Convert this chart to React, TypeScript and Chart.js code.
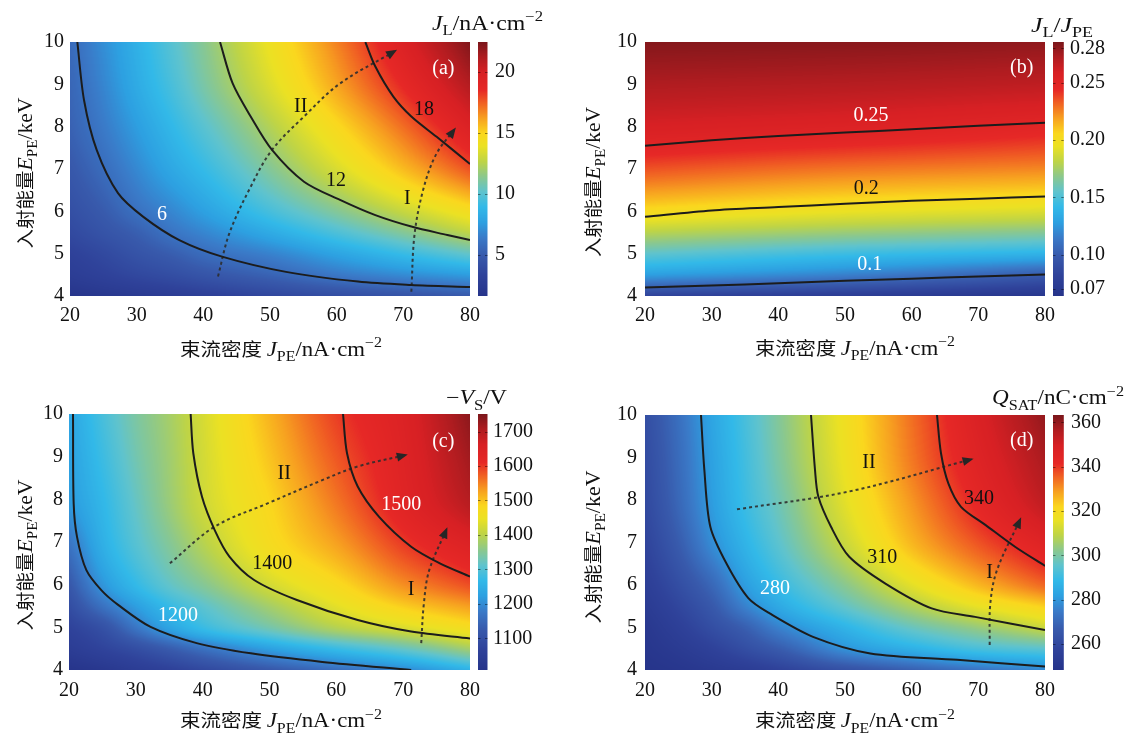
import React, { useEffect, useRef } from "react";
import { Chart, registerables } from "chart.js";

Chart.register(...registerables);

const SERIF = '"Liberation Serif", "DejaVu Serif", "Times New Roman", serif';
const CJK = '"Noto Sans CJK SC", "Noto Sans CJK JP", sans-serif';

/* ---------------- shared axis ticks ---------------- */
const xTickValues = [20, 30, 40, 50, 60, 70, 80];
const yTickValues = [4, 5, 6, 7, 8, 9, 10];

/* ---------------- (a) J_L ---------------- */
const aGridX = [20, 25, 30, 35, 40, 50, 60, 70, 80];
const aGridY = [4, 4.5, 5, 5.5, 6, 7, 8, 9, 10];
const aValues = [
  [1.8, 2.1, 2.4, 2.7, 3.0, 3.6, 4.1, 4.5, 4.9],
  [2.7, 3.2, 3.7, 4.1, 4.6, 5.4, 6.3, 7.0, 7.6],
  [3.2, 3.8, 4.5, 5.1, 5.8, 6.7, 7.9, 9.1, 10.3],
  [3.8, 4.5, 5.2, 6.1, 6.8, 8.2, 9.7, 11.2, 12.7],
  [4.2, 5.0, 6.0, 6.8, 7.7, 9.5, 11.2, 12.9, 14.5],
  [4.8, 5.8, 6.9, 8.0, 9.0, 11.2, 13.4, 15.6, 17.7],
  [5.3, 6.4, 7.6, 8.8, 10.0, 12.4, 14.8, 17.2, 19.6],
  [5.5, 6.8, 8.2, 9.5, 10.9, 13.5, 16.1, 18.6, 21.1],
  [5.7, 7.1, 8.5, 9.9, 11.3, 14.1, 16.8, 19.6, 22.3],
];
const aRange = [1.64, 22.46];
const aBarTicks = [5, 10, 15, 20];
const aContour6 = [[21.1, 10], [22.1, 8.63], [24.0, 7.45], [27.2, 6.43], [31.0, 5.87], [36.4, 5.32], [42.8, 4.93], [52.4, 4.57], [63.2, 4.34], [71.2, 4.26], [80, 4.21]];
const aContour12 = [[42.5, 10], [44.4, 9.02], [47.1, 8.24], [50.3, 7.45], [55.1, 6.7], [60.5, 6.27], [65.8, 5.91], [71.2, 5.64], [76.6, 5.44], [80, 5.32]];
const aContour18 = [[64.3, 10], [65.8, 9.42], [68.5, 8.71], [71.2, 8.24], [75, 7.76], [80, 7.12]];
const aArrowII = [[42.2, 4.46], [43.9, 5.48], [47.1, 6.58], [50.3, 7.45], [55.1, 8.24], [60.5, 9.02], [68.8, 9.79]];
const aArrowI = [[71.2, 4.1], [71.7, 5.48], [73.1, 6.58], [75, 7.37], [77.7, 7.94]];
const aLabelText = ["6", "12", "18", "II", "I", "(a)"];
const aLabelX = [33.8, 59.9, 73.1, 54.6, 70.6, 76.0];
const aLabelY = [5.93, 6.72, 8.39, 8.47, 6.29, 9.36];

/* ---------------- (b) J_L / J_PE ---------------- */
const bGridX = [20, 50, 80];
const bGridY = [4, 4.5, 5, 5.5, 6, 7, 8, 9, 10];
const bValues = [
  [0.082, 0.075, 0.068],
  [0.128, 0.117, 0.1],
  [0.155, 0.145, 0.138],
  [0.18, 0.172, 0.166],
  [0.203, 0.195, 0.19],
  [0.235, 0.228, 0.224],
  [0.258, 0.254, 0.248],
  [0.272, 0.27, 0.267],
  [0.283, 0.282, 0.28],
];
const bRange = [0.064, 0.2855];
const bBarTicks = [0.07, 0.1, 0.15, 0.2, 0.25, 0.28];
const bContour01 = [[20, 4.2], [30, 4.25], [40, 4.3], [50, 4.36], [60, 4.41], [70, 4.46], [80, 4.51]];
const bContour02 = [[20, 5.87], [30, 6.02], [40, 6.1], [50, 6.18], [60, 6.25], [70, 6.3], [80, 6.35]];
const bContour025 = [[20, 7.55], [30, 7.68], [40, 7.78], [50, 7.86], [60, 7.94], [70, 8.02], [80, 8.09]];
const bLabelText = ["0.25", "0.2", "0.1", "(b)"];
const bLabelX = [53.9, 53.2, 53.7, 76.5];
const bLabelY = [8.25, 6.54, 4.75, 9.38];

/* ---------------- (c) -V_S ---------------- */
const cGridX = [20, 25, 30, 35, 40, 50, 60, 70, 80];
const cGridY = [4, 4.5, 5, 5.5, 6, 7, 8, 9, 10];
const cValues = [
  [1010, 1025, 1045, 1062, 1082, 1120, 1157, 1194, 1253],
  [1045, 1070, 1097, 1130, 1165, 1225, 1275, 1320, 1380],
  [1068, 1105, 1172, 1231, 1275, 1335, 1394, 1430, 1469],
  [1095, 1165, 1222, 1272, 1310, 1380, 1440, 1492, 1530],
  [1120, 1210, 1268, 1315, 1350, 1422, 1476, 1540, 1585],
  [1170, 1250, 1305, 1350, 1395, 1470, 1528, 1598, 1648],
  [1216, 1265, 1320, 1370, 1417, 1484, 1558, 1632, 1700],
  [1225, 1278, 1332, 1375, 1421, 1500, 1578, 1640, 1718],
  [1231, 1290, 1342, 1380, 1425, 1513, 1595, 1647, 1736],
];
const cRange = [1008, 1751];
const cBarTicks = [1100, 1200, 1300, 1400, 1500, 1600, 1700];
const cContour1200 = [[20.6, 10], [20.7, 7.9], [21.2, 7.12], [22.6, 6.34], [24.9, 5.86], [27.4, 5.52], [32.2, 5.01], [39.1, 4.63], [47.2, 4.39], [57.9, 4.19], [71.2, 4.0]];
const cContour1400 = [[38.2, 10], [38.6, 9.08], [39.9, 8.06], [41.8, 7.28], [44.0, 6.66], [47.7, 6.11], [54.1, 5.64], [63.2, 5.17], [71.2, 4.9], [80, 4.74]];
const cContour1500 = [[61.0, 10], [61.6, 9.08], [63.2, 8.3], [66.4, 7.59], [71.2, 6.89], [75.5, 6.5], [80, 6.19]];
const cArrowII = [[35.1, 6.5], [41.8, 7.36], [49.8, 7.91], [57.9, 8.45], [63.2, 8.77], [70.4, 9.04]];
const cArrowI = [[72.7, 4.63], [73.1, 5.56], [73.9, 6.34], [76.5, 7.3]];
const cLabelText = ["1200", "1400", "1500", "II", "I", "(c)"];
const cLabelX = [36.3, 50.4, 69.7, 52.2, 71.2, 76.0];
const cLabelY = [5.27, 6.5, 7.87, 8.59, 5.89, 9.34];

/* ---------------- (d) Q_SAT ---------------- */
const dGridX = [20, 25, 30, 35, 40, 50, 60, 70, 80];
const dGridY = [4, 4.5, 5, 5.5, 6, 7, 8, 9, 10];
const dValues = [
  [248.5, 250, 252, 254, 257, 263, 268, 273, 277],
  [250, 253, 257, 262, 267, 279, 286, 292, 295],
  [251, 256, 262, 268, 276, 287, 297, 304, 311],
  [253, 259, 266, 276, 284, 296, 307, 316, 323],
  [255, 262, 270, 281, 289, 302, 315, 326, 335],
  [258, 267, 278, 287, 295, 311, 326, 337, 346],
  [260, 270, 281, 290, 298, 315, 330, 343, 354],
  [261, 271, 282, 291, 300, 317, 333, 346, 357],
  [262, 272, 283, 292, 301, 318, 334, 348, 360],
];
const dRange = [248.3, 363.3];
const dBarTicks = [260, 280, 300, 320, 340, 360];
const dContour280 = [[28.4, 10], [28.9, 8.71], [29.8, 7.37], [32.2, 6.51], [35.5, 5.69], [38.7, 5.33], [45.2, 4.78], [53.8, 4.39], [66.8, 4.24], [80, 4.08]];
const dContour310 = [[44.9, 10], [45.5, 8.71], [46.0, 8.08], [47.9, 7.37], [50.6, 6.67], [56.0, 6.04], [63.0, 5.45], [69.5, 5.25], [80, 4.94]];
const dContour340 = [[63.8, 10], [64.4, 9.1], [65.5, 8.39], [67.4, 7.84], [71.1, 7.41], [75.5, 6.9], [80, 6.45]];
const dArrowII = [[33.8, 7.78], [50.6, 8.2], [69.0, 8.96]];
const dArrowI = [[71.7, 4.59], [71.8, 5.57], [72.8, 6.35], [76.3, 7.55]];
const dLabelText = ["280", "310", "340", "II", "I", "(d)"];
const dLabelX = [39.5, 55.6, 70.1, 53.6, 71.7, 76.5];
const dLabelY = [5.91, 6.65, 8.02, 8.88, 6.28, 9.39];

/* ---------------- titles (rich text segments) ---------------- */
const yTitleSegs = [["入射能量", "cjk"], ["E", "i"], ["PE", "sub"], ["/keV", "n"]];
const xTitleSegs = [["束流密度 ", "cjk"], ["J", "i"], ["PE", "sub"], ["/nA·cm", "n"], ["−2", "sup"]];
const aBarTitle = [["J", "i"], ["L", "sub"], ["/nA·cm", "n"], ["−2", "sup"]];
const bBarTitle = [["J", "i"], ["L", "sub"], ["/", "n"], ["J", "i"], ["PE", "sub"]];
const cBarTitle = [["−", "n"], ["V", "i"], ["S", "sub"], ["/V", "n"]];
const dBarTitle = [["Q", "i"], ["SAT", "sub"], ["/nC·cm", "n"], ["−2", "sup"]];

/* ---------------- colormap (style) ---------------- */
const cmapStops: [number, number[]][] = [
  [0.0, [38, 52, 138]],
  [0.08, [47, 66, 154]],
  [0.16, [56, 90, 172]],
  [0.23, [58, 122, 200]],
  [0.29, [45, 160, 225]],
  [0.35, [50, 185, 232]],
  [0.41, [95, 195, 205]],
  [0.47, [140, 200, 140]],
  [0.53, [190, 212, 70]],
  [0.59, [235, 225, 35]],
  [0.64, [250, 215, 30]],
  [0.7, [247, 160, 32]],
  [0.76, [240, 95, 35]],
  [0.81, [230, 40, 38]],
  [0.88, [215, 32, 36]],
  [0.94, [175, 28, 32]],
  [1.0, [122, 22, 26]],
];
const LUTN = 512;
const LUT = (() => {
  const arr = new Uint8ClampedArray(LUTN * 3);
  for (let i = 0; i < LUTN; i++) {
    const p = i / (LUTN - 1);
    let k = 0;
    while (k < cmapStops.length - 2 && p > cmapStops[k + 1][0]) k++;
    const [p0, c0] = cmapStops[k];
    const [p1, c1] = cmapStops[k + 1];
    const t = Math.max(0, Math.min(1, (p - p0) / (p1 - p0)));
    for (let c = 0; c < 3; c++) arr[i * 3 + c] = c0[c] + (c1[c] - c0[c]) * t;
  }
  return arr;
})();
function lutIdx(v: number, lo: number, hi: number) {
  const p = Math.max(0, Math.min(1, (v - lo) / (hi - lo)));
  return Math.round(p * (LUTN - 1));
}
function lutColor(v: number, lo: number, hi: number) {
  const i = lutIdx(v, lo, hi);
  return `rgb(${LUT[i * 3]},${LUT[i * 3 + 1]},${LUT[i * 3 + 2]})`;
}

/* monotone cubic (PCHIP) interpolant, used for shading between read grid values */
function pchip(xs: number[], ys: number[]) {
  const n = xs.length;
  const h: number[] = [];
  const d: number[] = [];
  for (let i = 0; i < n - 1; i++) {
    h.push(xs[i + 1] - xs[i]);
    d.push((ys[i + 1] - ys[i]) / h[i]);
  }
  const m = new Array(n).fill(0);
  m[0] = d[0];
  m[n - 1] = d[n - 2];
  for (let i = 1; i < n - 1; i++) {
    if (d[i - 1] * d[i] <= 0) m[i] = 0;
    else {
      const w1 = 2 * h[i] + h[i - 1];
      const w2 = h[i] + 2 * h[i - 1];
      m[i] = (w1 + w2) / (w1 / d[i - 1] + w2 / d[i]);
    }
  }
  return (x: number) => {
    let i = 0;
    if (x >= xs[n - 1]) i = n - 2;
    else while (i < n - 2 && x > xs[i + 1]) i++;
    const t = Math.max(0, Math.min(1, (x - xs[i]) / h[i]));
    const t2 = t * t;
    const t3 = t2 * t;
    return (2 * t3 - 3 * t2 + 1) * ys[i] + (t3 - 2 * t2 + t) * h[i] * m[i] + (-2 * t3 + 3 * t2) * ys[i + 1] + (t3 - t2) * h[i] * m[i + 1];
  };
}

/* ---------------- rich text ---------------- */
function segFont(kind: string, F: number) {
  if (kind === "i") return `italic ${F}px ${SERIF}`;
  if (kind === "sub" || kind === "sup") return `${Math.round(F * 0.7)}px ${SERIF}`;
  if (kind === "cjk") return `${Math.round(F * 0.92)}px ${CJK}`;
  return `${F}px ${SERIF}`;
}
function drawRich(ctx: any, segs: any[], F: number, x: number, y: number, width: number, align: string, rotate: boolean) {
  ctx.save();
  const ws = segs.map(([t, k]: any) => {
    ctx.font = segFont(k, F);
    return ctx.measureText(t).width;
  });
  const total = ws.reduce((a: number, b: number) => a + b, 0);
  const s = width ? width / total : 1;
  ctx.translate(x, y);
  if (rotate) ctx.rotate(-Math.PI / 2);
  ctx.scale(s, 1);
  let cx = align === "center" ? -total / 2 : 0;
  ctx.textBaseline = "alphabetic";
  ctx.textAlign = "left";
  ctx.fillStyle = "#111";
  const base = F * 0.34;
  segs.forEach(([t, k]: any, i: number) => {
    ctx.font = segFont(k, F);
    const dy = k === "sub" ? F * 0.27 : k === "sup" ? -F * 0.42 : 0;
    ctx.fillText(t, cx, base + dy);
    cx += ws[i];
  });
  ctx.restore();
}

/* ---------------- panels (layout + style) ---------------- */
const panels: any[] = [
  {
    key: "a", canvas: { left: 0, top: 0, w: 563, h: 366 }, area: { l: 70, r: 470, t: 42, b: 296 },
    gridX: aGridX, gridY: aGridY, values: aValues, range: aRange, barTicks: aBarTicks, fmt: (v: number) => String(v),
    contours: [aContour6, aContour12, aContour18], arrows: [aArrowII, aArrowI],
    labelText: aLabelText, labelX: aLabelX, labelY: aLabelY, labelColors: ["#fff", "#111", "#111", "#111", "#111", "#fff"],
    cb: { off: 8, w: 9.5, pad: 25 }, yPad: 6, xPad: 8,
    barTitle: aBarTitle, barTitlePos: { x: 432, y: 23, w: 111 },
    yTitlePos: { x: 25, y: 173, w: 151 }, xTitlePos: { x: 281, y: 349, w: 202 },
  },
  {
    key: "b", canvas: { left: 563, top: 0, w: 563, h: 366 }, area: { l: 82, r: 482, t: 42, b: 296 },
    gridX: bGridX, gridY: bGridY, values: bValues, range: bRange, barTicks: bBarTicks, fmt: (v: number) => v.toFixed(2),
    contours: [bContour01, bContour02, bContour025], arrows: [],
    labelText: bLabelText, labelX: bLabelX, labelY: bLabelY, labelColors: ["#fff", "#111", "#fff", "#fff"],
    cb: { off: 8, w: 10.8, pad: 25 }, yPad: 8, xPad: 8,
    barTitle: bBarTitle, barTitlePos: { x: 468, y: 25, w: 62 },
    yTitlePos: { x: 30, y: 182, w: 150 }, xTitlePos: { x: 292, y: 348, w: 200 },
  },
  {
    key: "c", canvas: { left: 0, top: 366, w: 563, h: 367 }, area: { l: 69, r: 470, t: 48, b: 304 },
    gridX: cGridX, gridY: cGridY, values: cValues, range: cRange, barTicks: cBarTicks, fmt: (v: number) => String(v),
    contours: [cContour1200, cContour1400, cContour1500], arrows: [cArrowII, cArrowI],
    labelText: cLabelText, labelX: cLabelX, labelY: cLabelY, labelColors: ["#fff", "#111", "#fff", "#111", "#111", "#fff"],
    cb: { off: 8, w: 9.5, pad: 23 }, yPad: 6, xPad: 9,
    barTitle: cBarTitle, barTitlePos: { x: 446, y: 31.5, w: 61 },
    yTitlePos: { x: 25, y: 189, w: 151 }, xTitlePos: { x: 281, y: 354.5, w: 202 },
  },
  {
    key: "d", canvas: { left: 563, top: 366, w: 563, h: 367 }, area: { l: 82, r: 482, t: 49, b: 304 },
    gridX: dGridX, gridY: dGridY, values: dValues, range: dRange, barTicks: dBarTicks, fmt: (v: number) => String(v),
    contours: [dContour280, dContour310, dContour340], arrows: [dArrowII, dArrowI],
    labelText: dLabelText, labelX: dLabelX, labelY: dLabelY, labelColors: ["#fff", "#111", "#111", "#111", "#111", "#fff"],
    cb: { off: 8, w: 10.8, pad: 26 }, yPad: 8, xPad: 9,
    barTitle: dBarTitle, barTitlePos: { x: 429, y: 31.5, w: 132 },
    yTitlePos: { x: 30, y: 181, w: 153 }, xTitlePos: { x: 292, y: 354.5, w: 200 },
  },
];

function drawHeatmap(chart: any, p: any) {
  const { ctx, chartArea: a } = chart;
  const xs = chart.scales.x;
  const ys = chart.scales.y;
  const L = Math.round(a.left);
  const T = Math.round(a.top);
  const W = Math.round(a.right) - L;
  const H = Math.round(a.bottom) - T;
  const rowFns = p.values.map((row: number[]) => pchip(p.gridX, row));
  const rowY = new Float64Array(H);
  for (let j = 0; j < H; j++) rowY[j] = ys.getValueForPixel(T + j + 0.5);
  const img = ctx.createImageData(W, H);
  const [lo, hi] = p.range;
  for (let i = 0; i < W; i++) {
    const xv = xs.getValueForPixel(L + i + 0.5);
    const col = rowFns.map((f: any) => f(xv));
    const f = pchip(p.gridY, col);
    for (let j = 0; j < H; j++) {
      const k = lutIdx(f(rowY[j]), lo, hi) * 3;
      const o = (j * W + i) * 4;
      img.data[o] = LUT[k];
      img.data[o + 1] = LUT[k + 1];
      img.data[o + 2] = LUT[k + 2];
      img.data[o + 3] = 255;
    }
  }
  const off = document.createElement("canvas");
  off.width = W;
  off.height = H;
  (off.getContext("2d") as any).putImageData(img, 0, 0);
  ctx.drawImage(off, L, T);
}

function makeConfig(p: any): any {
  const toPts = (arr: number[][]) => arr.map(([x, y]) => ({ x, y }));
  const datasets = [
    ...p.contours.map((c: number[][]) => ({
      data: toPts(c), showLine: true, pointRadius: 0, borderColor: "#1c1c1c", borderWidth: 2,
      tension: 0.3, fill: false, xAxisID: "x", yAxisID: "y",
    })),
    ...p.arrows.map((c: number[][]) => ({
      data: toPts(c), showLine: true, pointRadius: 0, borderColor: "rgba(45,45,45,0.9)", borderWidth: 2,
      borderDash: [3, 3], tension: 0.35, fill: false, xAxisID: "x", yAxisID: "y",
    })),
  ];
  const tickFont = { family: SERIF, size: 20 };
  const plugin = {
    id: "panel_" + p.key,
    beforeDatasetsDraw(chart: any) {
      drawHeatmap(chart, p);
    },
    afterDatasetsDraw(chart: any) {
      const ctx = chart.ctx;
      const xs = chart.scales.x;
      const ys = chart.scales.y;
      // arrow heads
      p.arrows.forEach((arr: number[][]) => {
        const n = arr.length;
        const x1 = xs.getPixelForValue(arr[n - 2][0]);
        const y1 = ys.getPixelForValue(arr[n - 2][1]);
        const x2 = xs.getPixelForValue(arr[n - 1][0]);
        const y2 = ys.getPixelForValue(arr[n - 1][1]);
        const ang = Math.atan2(y2 - y1, x2 - x1);
        ctx.save();
        ctx.translate(x2, y2);
        ctx.rotate(ang);
        ctx.beginPath();
        ctx.moveTo(2, 0);
        ctx.lineTo(-9, -4.5);
        ctx.lineTo(-9, 4.5);
        ctx.closePath();
        ctx.fillStyle = "#262626";
        ctx.fill();
        ctx.restore();
      });
      // labels
      ctx.save();
      ctx.font = `20px ${SERIF}`;
      ctx.textAlign = "center";
      ctx.textBaseline = "middle";
      p.labelText.forEach((t: string, i: number) => {
        ctx.fillStyle = p.labelColors[i];
        ctx.fillText(t, xs.getPixelForValue(p.labelX[i]), ys.getPixelForValue(p.labelY[i]));
      });
      ctx.restore();
    },
    afterDraw(chart: any) {
      const ctx = chart.ctx;
      const s = chart.scales.cb;
      const x0 = chart.chartArea.right + p.cb.off;
      const top = Math.round(s.top);
      const bot = Math.round(s.bottom);
      for (let y = top; y < bot; y++) {
        ctx.fillStyle = lutColor(s.getValueForPixel(y + 0.5), p.range[0], p.range[1]);
        ctx.fillRect(x0, y, p.cb.w, 1);
      }
      ctx.save();
      ctx.strokeStyle = "rgba(0,0,0,0.45)";
      ctx.lineWidth = 1;
      p.barTicks.forEach((v: number) => {
        const y = Math.round(s.getPixelForValue(v)) + 0.5;
        ctx.beginPath();
        ctx.moveTo(x0, y);
        ctx.lineTo(x0 + 2.5, y);
        ctx.moveTo(x0 + p.cb.w - 2.5, y);
        ctx.lineTo(x0 + p.cb.w, y);
        ctx.stroke();
      });
      ctx.restore();
      drawRich(ctx, p.barTitle, 20, p.barTitlePos.x, p.barTitlePos.y, p.barTitlePos.w, "left", false);
      drawRich(ctx, yTitleSegs, 20, p.yTitlePos.x, p.yTitlePos.y, p.yTitlePos.w, "center", true);
      drawRich(ctx, xTitleSegs, 20, p.xTitlePos.x, p.xTitlePos.y, p.xTitlePos.w, "center", false);
    },
  };
  return {
    type: "scatter",
    data: { datasets },
    options: {
      animation: false,
      responsive: false,
      devicePixelRatio: 1,
      events: [],
      layout: { padding: { top: p.area.t, left: 0, right: 0, bottom: 0 } },
      plugins: { legend: { display: false }, tooltip: { enabled: false }, title: { display: false } },
      scales: {
        x: {
          type: "linear", position: "bottom", min: 20, max: 80,
          afterBuildTicks: (sc: any) => { sc.ticks = xTickValues.map((v) => ({ value: v })); },
          afterFit: (sc: any) => { sc.height = p.canvas.h - p.area.b; },
          grid: { display: false, drawTicks: false }, border: { display: false },
          ticks: { font: tickFont, color: "#111", padding: p.xPad, maxRotation: 0, autoSkip: false },
        },
        y: {
          type: "linear", position: "left", min: 4, max: 10,
          afterBuildTicks: (sc: any) => { sc.ticks = yTickValues.map((v) => ({ value: v })); },
          afterFit: (sc: any) => { sc.width = p.area.l; },
          grid: { display: false, drawTicks: false }, border: { display: false },
          ticks: { font: tickFont, color: "#111", padding: p.yPad, autoSkip: false },
        },
        cb: {
          type: "linear", position: "right", min: p.range[0], max: p.range[1],
          afterBuildTicks: (sc: any) => { sc.ticks = p.barTicks.map((v: number) => ({ value: v })); },
          afterFit: (sc: any) => { sc.width = p.canvas.w - p.area.r; },
          grid: { display: false, drawTicks: false }, border: { display: false },
          ticks: { font: tickFont, color: "#111", padding: p.cb.pad, autoSkip: false, callback: (v: any) => p.fmt(Number(v)) },
        },
      },
    },
    plugins: [plugin],
  };
}

function Panel({ p }: { p: any }) {
  const ref = useRef<HTMLCanvasElement>(null);
  useEffect(() => {
    const chart = new Chart(ref.current as HTMLCanvasElement, makeConfig(p));
    return () => chart.destroy();
  }, [p]);
  return (
    <canvas
      ref={ref}
      width={p.canvas.w}
      height={p.canvas.h}
      style={{ position: "absolute", left: p.canvas.left, top: p.canvas.top, width: p.canvas.w, height: p.canvas.h }}
    />
  );
}

export default function App() {
  return (
    <div style={{ position: "absolute", left: 0, top: 0, width: 1126, height: 733, background: "#fff", overflow: "hidden" }}>
      {panels.map((p) => (
        <Panel key={p.key} p={p} />
      ))}
    </div>
  );
}
